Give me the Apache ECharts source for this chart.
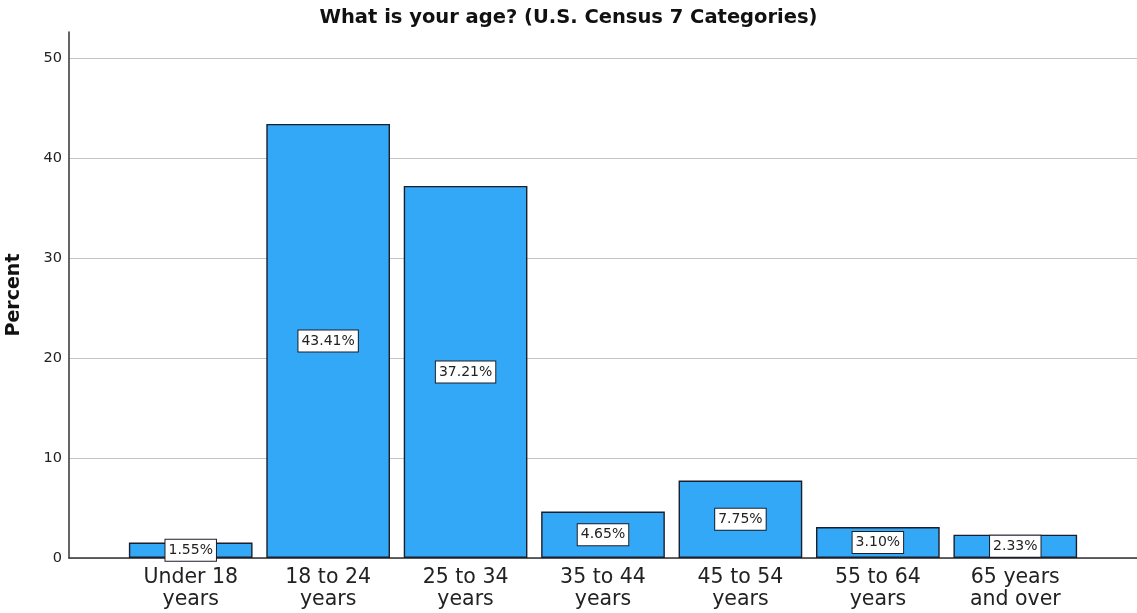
<!DOCTYPE html>
<html>
<head>
<meta charset="utf-8">
<script src="https://cdn.jsdelivr.net/npm/echarts@6/dist/echarts.min.js"></script>
<style>
  html, body { margin: 0; padding: 0; background: #fff; }
  #chart { width: 1137px; height: 613px; }
</style>
</head>
<body>
<div id="chart"></div>
<script>
// Age categories (U.S. Census) and the share of respondents in each, in percent
const categories = ['Under 18\nyears', '18 to 24\nyears', '25 to 34\nyears', '35 to 44\nyears', '45 to 54\nyears', '55 to 64\nyears', '65 years\nand over'];
const percents = [1.55, 43.41, 37.21, 4.65, 7.75, 3.10, 2.33];
const yTicks = [0, 10, 20, 30, 40, 50];

const font = '"DejaVu Sans", Verdana, sans-serif';
const yMax = 52.6;
const plotTop = 32, plotBottom = 55;

const chart = echarts.init(document.getElementById('chart'), null, { renderer: 'canvas' });
chart.setOption({
  backgroundColor: '#ffffff',
  animation: false,
  title: {
    text: 'What is your age? (U.S. Census 7 Categories)',
    left: 'center',
    top: 3,
    textStyle: { fontFamily: font, fontSize: 19.5, fontWeight: 'bold', color: '#111' }
  },
  grid: [
    // frame grid: y axis, gridlines and baseline
    { left: 69, right: 0, top: plotTop, bottom: plotBottom, outerBoundsMode: 'none', containLabel: false },
    // bar grid: categories occupy the inner span
    { left: 122, right: 53, top: plotTop, bottom: plotBottom, outerBoundsMode: 'none', containLabel: false }
  ],
  xAxis: [
    {
      gridIndex: 0, type: 'value', min: 0, max: 1,
      axisLine: { show: true, onZero: false, lineStyle: { color: '#333', width: 1.5 } },
      axisTick: { show: false }, axisLabel: { show: false }, splitLine: { show: false }
    },
    {
      gridIndex: 1, type: 'category', data: categories,
      axisLine: { show: false }, axisTick: { show: false },
      axisLabel: {
        interval: 0, margin: 9, color: '#222',
        fontFamily: font, fontSize: 20.5, lineHeight: 22
      }
    }
  ],
  yAxis: [
    {
      gridIndex: 0, type: 'value', min: 0, max: yMax, interval: 10,
      name: 'Percent', nameLocation: 'middle', nameGap: 45, nameRotate: 90,
      nameTextStyle: { fontFamily: font, fontSize: 19, fontWeight: 'bold', color: '#111' },
      axisLine: { show: true, lineStyle: { color: '#333', width: 1.5 } },
      axisTick: { show: false },
      axisLabel: {
        color: '#222', fontFamily: font, fontSize: 14.5, margin: 7,
        customValues: yTicks
      },
      splitLine: {
        show: true,
        lineStyle: { color: ['#c4c4c4', '#c4c4c4', '#c4c4c4', '#c4c4c4', '#c4c4c4', '#c4c4c4', 'rgba(0,0,0,0)'], width: 1 }
      }
    },
    {
      gridIndex: 1, type: 'value', min: 0, max: yMax,
      show: false, splitLine: { show: false }
    }
  ],
  series: [{
    type: 'bar',
    xAxisIndex: 1, yAxisIndex: 1,
    data: percents,
    barCategoryGap: '10%',
    itemStyle: { color: '#33a8f6', borderColor: '#1b1f2b', borderWidth: 1.4 },
    label: {
      show: true,
      position: 'inside',
      formatter: p => p.value.toFixed(2) + '%',
      fontFamily: font, fontSize: 14, color: '#222',
      backgroundColor: '#ffffff',
      borderColor: '#1b1f2b', borderWidth: 1,
      padding: [4, 3, 3, 3]
    }
  }]
});
</script>
</body>
</html>
